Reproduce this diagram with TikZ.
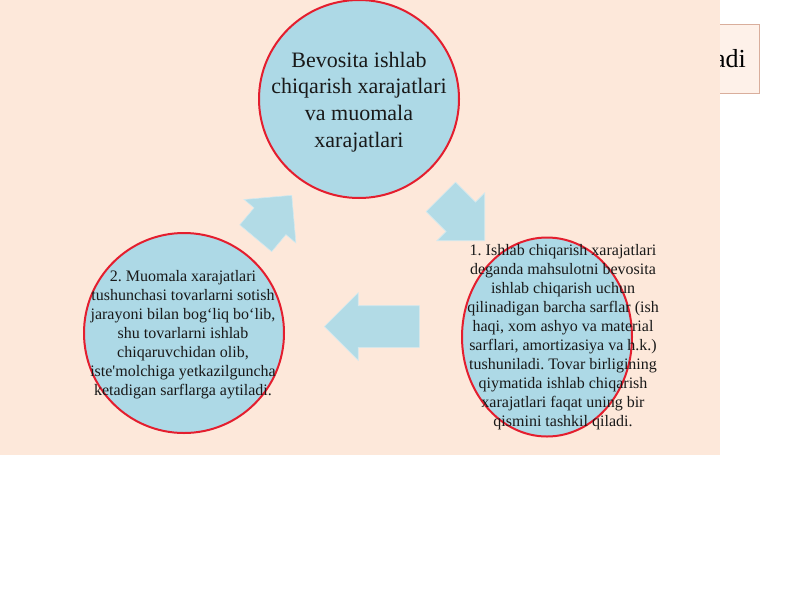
\documentclass[tikz,border=0pt]{standalone}
\usepackage{fontspec}
\setmainfont{Liberation Serif}
\usetikzlibrary{shapes.geometric,shapes.arrows}
\definecolor{peach}{HTML}{FDE8DA}
\definecolor{ringblue}{HTML}{ADD9E6}
\definecolor{ringred}{HTML}{E41E2E}
\definecolor{arrowblue}{HTML}{B2DBE6}
\definecolor{boxtan}{HTML}{D9AE9C}
\definecolor{boxfill}{HTML}{FEF1E9}
\frenchspacing

\begin{document}
\begin{tikzpicture}[x=1pt,y=-1pt,
    ring/.style={ellipse, draw=ringred, line width=2pt, fill=ringblue, inner sep=0pt},
    blockarrow/.style={single arrow, fill=arrowblue, draw=white!40!arrowblue, line width=0.6pt,
        inner xsep=0pt, inner ysep=20.5pt, single arrow head extend=13pt, anchor=tip},
    txt/.style={align=center, text=black!90, font=\fontsize{16}{19}\selectfont}]
\fill[white] (0,0) rectangle (800,600);
\useasboundingbox (0,0) rectangle (800,600);
% box behind the panel
\node[draw=boxtan, fill=boxfill, anchor=east, minimum height=69pt, inner xsep=13pt,
      font=\fontsize{26}{30}\selectfont] (tail) at (759,58.5) {adi};
\fill[peach] (0,0) rectangle (720,455);
% three circles
\node[ring, minimum width=200pt, minimum height=198pt] (umumiy) at (359,99) {};
\node[ring, minimum width=200pt, minimum height=200pt] (muomala) at (184,333) {};
\node[ring, minimum width=170pt, minimum height=199pt] (ishlab) at (547,337) {};
\node[txt, font=\fontsize{22}{26.7}\selectfont] (umumiytxt) at (359,102)
    {Bevosita ishlab\\chiqarish xarajatlari\\va muomala\\xarajatlari};
\node[txt] (ishlabtxt) at (563,337.5)
    {1. Ishlab chiqarish xarajatlari\\deganda mahsulotni bevosita\\ishlab chiqarish uchun\\qilinadigan barcha sarflar (ish\\haqi, xom ashyo va material\\sarflari, amortizasiya va h.k.)\\tushuniladi. Tovar birligining\\qiymatida ishlab chiqarish\\xarajatlari faqat uning bir\\qismini tashkil qiladi.};
\node[txt] (muomalatxt) at (183,335)
    {2. Muomala xarajatlari\\tushunchasi tovarlarni sotish\\jarayoni bilan bog‘liq bo‘lib,\\shu tovarlarni ishlab\\chiqaruvchidan olib,\\iste{\textquotesingle}molchiga yetkazilguncha\\ketadigan sarflarga aytiladi.};
% cycle arrows
\node[blockarrow, minimum height=56pt, rotate=50] (arrowA) at (292,195) {};
\node[blockarrow, minimum height=62pt, rotate=-45] (arrowB) at (485,241) {};
\node[blockarrow, minimum height=95pt, rotate=180] (arrowC) at (324,326.5) {};
\end{tikzpicture}
\end{document}
